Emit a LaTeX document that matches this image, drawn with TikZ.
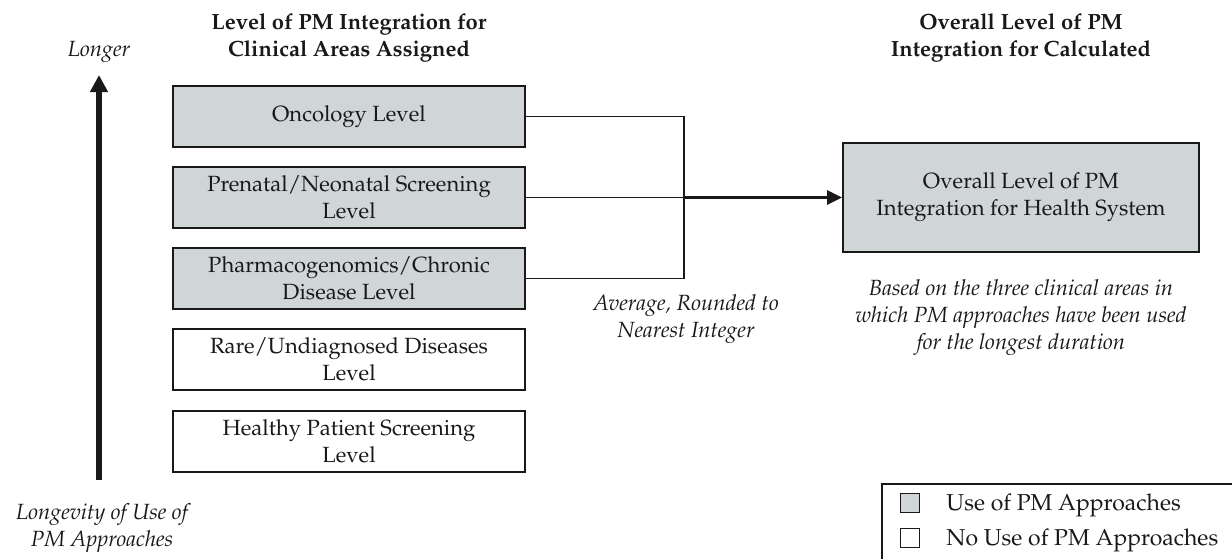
\documentclass[tikz,border=0pt]{standalone}
\usepackage[T1]{fontenc}
\usepackage{mathpazo}
\usetikzlibrary{arrows.meta}
\definecolor{boxfill}{RGB}{208,213,216}
\definecolor{ink}{RGB}{25,25,25}
\tikzset{
  txt/.style={font=\fontsize{11}{13.5}\selectfont, text=ink},
  lvl/.style={txt, draw=ink, line width=1pt, minimum width=176pt, minimum height=30.5pt, inner sep=0pt, align=center},
  used/.style={lvl, fill=boxfill},
  unused/.style={lvl, fill=white},
  ttl/.style={align=center, font=\fontsize{11}{13.5}\selectfont\bfseries, text=ink},
  note/.style={align=center, font=\fontsize{11}{13.5}\selectfont\itshape, text=ink},
  conn/.style={draw=ink, line width=0.85pt},
  chk/.style={draw=ink, line width=0.9pt, minimum size=9.5pt, inner sep=0pt},
  legtxt/.style={font=\fontsize{11.5}{14}\selectfont, text=ink, anchor=west, inner sep=0pt},
}
\begin{document}
\begin{tikzpicture}[x=0.5pt,y=-0.5pt]
\useasboundingbox (0,0) rectangle (1232,559);
% titles
\node[ttl] (tl) at (349,38) {Level of PM Integration for\\Clinical Areas Assigned};
\node[ttl] (tr) at (1021,38) {Overall Level of PM\\Integration for Calculated};
% level boxes
\node[used] (onc) at (349,116.5) {Oncology Level};
\node[used] (pre) at (349,197.5) {Prenatal/Neonatal Screening\\Level};
\node[used] (pha) at (349,278.5) {Pharmacogenomics/Chronic\\Disease Level};
\node[unused] (rare) at (349,359.5) {Rare/Undiagnosed Diseases\\Level};
\node[unused] (hps) at (349,441.5) {Healthy Patient Screening\\Level};
% overall box
\node[lvl, fill=boxfill, minimum width=178pt, minimum height=54.5pt] (ovr) at (1021,197.5) {Overall Level of PM\\Integration for Health System};
% connectors
\coordinate (jn) at (684,197.5);
\draw[conn] (onc.east) -| (jn) |- (pha.east);
\draw[conn] (pre.east) -- (jn);
\draw[conn, line width=1.35pt, -{Triangle[length=7.5pt,width=7pt]}] (jn) -- (ovr.west);
% notes
\node[note] (avg) at (686,319) {Average, Rounded to\\Nearest Integer};
\node[note] (based) at (1021,318) {Based on the three clinical areas in\\which PM approaches have been used\\for the longest duration};
% longevity arrow
\node[note] (longer) at (99,52) {Longer};
\node[note] (longev) at (102,528) {Longevity of Use of\\PM Approaches};
\coordinate (abot) at (99,480);
\coordinate (atop) at (99,75);
\draw[draw=ink, line width=3pt, -{Triangle[length=8.5pt,width=8.5pt]}] (abot) -- (atop);
% legend
\draw[conn, line width=1pt] (882,559) -- (882,484) -- (1232,484);
\node[chk, fill=boxfill] (k1) at (910,503) {};
\node[chk, fill=white] (k2) at (910,538) {};
\node[legtxt] (l1) at (946,505) {Use of PM Approaches};
\node[legtxt] (l2) at (946,540) {No Use of PM Approaches};
\end{tikzpicture}
\end{document}
